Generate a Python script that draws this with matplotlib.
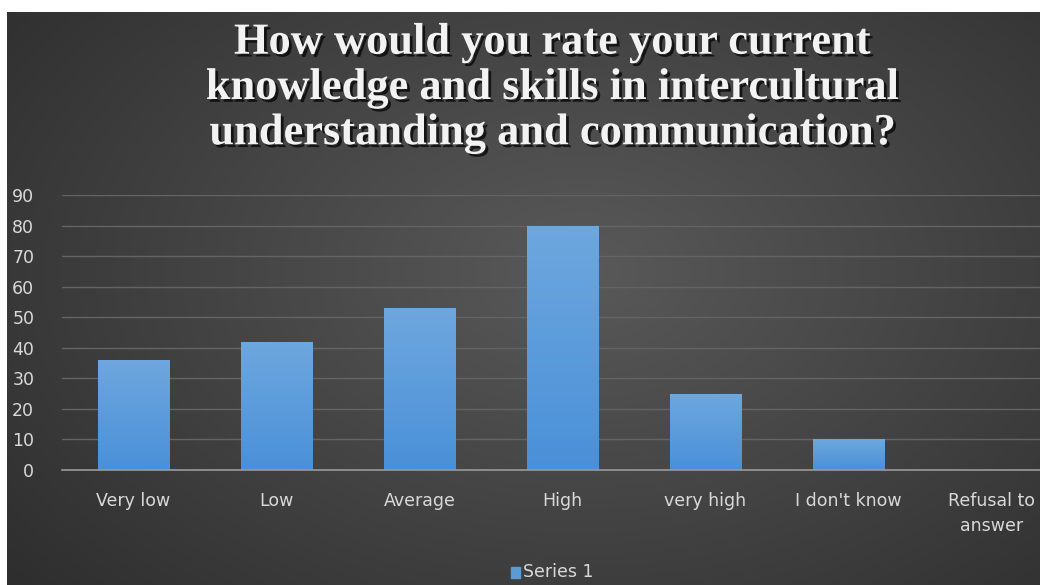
import numpy as np
import matplotlib
matplotlib.use("Agg")
import matplotlib.pyplot as plt
import matplotlib.patheffects as pe
from matplotlib.colors import LinearSegmentedColormap

categories = ["Very low", "Low", "Average", "High", "very high", "I don't know", "Refusal to\nanswer"]
values = [36, 42, 53, 80, 25, 10, 0]
yticks = [0, 10, 20, 30, 40, 50, 60, 70, 80, 90]
title = "How would you rate your current\nknowledge and skills in intercultural\nunderstanding and communication?"

fig = plt.figure(figsize=(10.4, 5.85), dpi=100)
fig.patch.set_facecolor("white")

# dark radial background like the Excel style
bg = fig.add_axes([7 / 1040, 0, 1 - 7 / 1040, 1 - 12 / 585])
yy, xx = np.mgrid[0:200, 0:360]
r = np.sqrt(((xx - 200) / 260.0) ** 2 + ((yy - 90) / 170.0) ** 2)
shade = np.clip(0.35 - 0.17 * r, 0.16, 0.35)
img = np.dstack([shade, shade, shade])
bg.imshow(img, aspect="auto", extent=[0, 1, 0, 1], interpolation="bicubic")
bg.set_axis_off()

ax = fig.add_axes([62 / 1040, 1 - 470 / 585, 1001 / 1040, 275 / 585])
ax.patch.set_alpha(0)
x = np.arange(len(categories))
bars = ax.bar(x, values, width=0.5, color="#5b9bd5", edgecolor="#3f6f9c", linewidth=0.6, zorder=3)

# vertical gradient fill on the bars
cmap = LinearSegmentedColormap.from_list("blu", ["#4a90d8", "#6ea7de"])
grad = np.linspace(0, 1, 100).reshape(-1, 1)
for b in bars:
    if b.get_height() <= 0:
        continue
    x0, y0 = b.get_x(), b.get_y()
    im = ax.imshow(grad, cmap=cmap, origin="lower", aspect="auto",
                   extent=[x0, x0 + b.get_width(), y0, y0 + b.get_height()], zorder=3.5)
    im.set_clip_path(b)
ax.set_xlim(-0.5, len(categories) - 0.5)
ax.set_ylim(0, 90)

ax.set_yticks(yticks)
ax.set_xticks(x)
ax.set_xticklabels(categories, linespacing=1.5)
ax.grid(axis="y", color="#646464", linewidth=1, zorder=0)
for s in ["top", "right", "left"]:
    ax.spines[s].set_visible(False)
ax.spines["bottom"].set_color("#9a9a9a")
ax.spines["bottom"].set_linewidth(1.2)
ax.spines["bottom"].set_zorder(4)
ax.tick_params(length=0, colors="#d9d9d9", labelsize=12.5)
ax.tick_params(axis="y", pad=20)
ax.tick_params(axis="x", pad=16)
for lbl in ax.get_yticklabels():
    lbl.set_horizontalalignment("right")

fig.text(553 / 1040, 1 - 88 / 585, title, ha="center", va="center", color="#f2f2f2",
         fontsize=32, fontweight="bold", family=["Liberation Serif", "DejaVu Serif"],
         linespacing=1.17,
         path_effects=[pe.withSimplePatchShadow(offset=(2, -2), shadow_rgbFace="black", alpha=0.7)])

# legend
fig.patches.append(plt.Rectangle((511 / 1040, 1 - 578 / 585), 9 / 1040, 11 / 585,
                                 transform=fig.transFigure, color="#5b9bd5"))
fig.text(523 / 1040, 1 - 572 / 585, "Series 1", ha="left", va="center", color="#d9d9d9",
         fontsize=12.5)

fig.savefig("out.png", dpi=100)
